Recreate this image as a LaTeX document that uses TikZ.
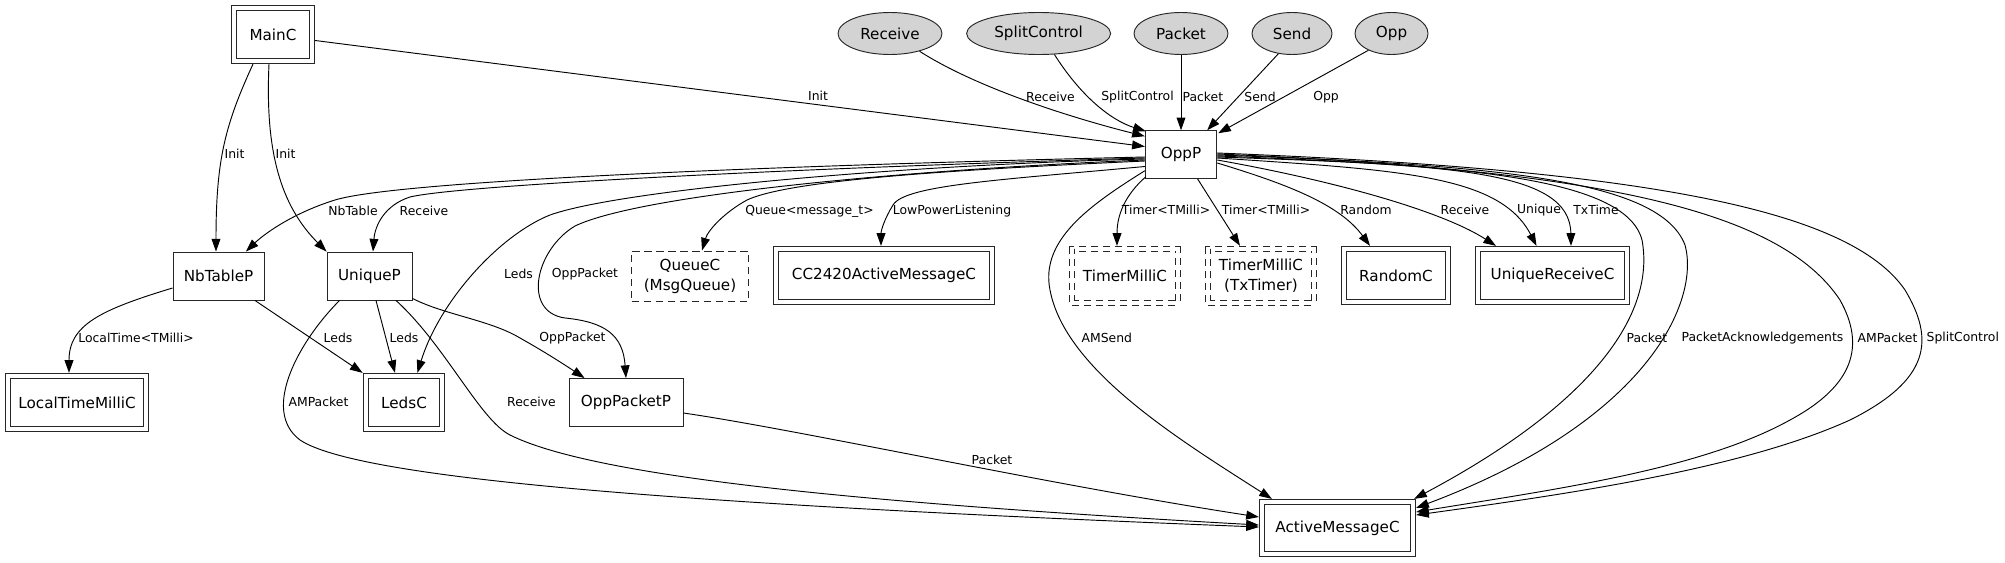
\documentclass[tikz,border=0pt]{standalone}
\usepackage{fontspec}
\setmainfont{DejaVu Sans}
\usetikzlibrary{arrows.meta,shapes.geometric,calc}
\definecolor{ifill}{HTML}{D3D3D3}
\tikzset{
  nfont/.style={font=\fontsize{11.4pt}{15pt}\selectfont},
  efont/.style={font=\fontsize{9.3pt}{11pt}\selectfont},
  box/.style={draw=black!85, rectangle, line width=0.7pt, inner sep=0pt, nfont, align=center},
  dbox/.style={box, double, double distance=3pt, outer sep=2.35pt},
  dsh/.style={dash pattern=on 5.5pt off 3.5pt},
  iface/.style={draw=black!85, ellipse, line width=0.7pt, fill=ifill, inner sep=0pt, nfont, minimum height=31.5pt},
  edge/.style={draw, line width=0.7pt, -{Triangle[length=9.5pt,width=6.6pt]}},
  lbl/.style={efont, inner sep=1pt}
}
\begin{document}
\begin{tikzpicture}[x=0.75pt,y=-0.75pt]
\path[use as bounding box, fill=white] (0,0) rectangle (2005,563);

% nodes
\node[dbox, minimum width=58.5pt, minimum height=39.75pt] (MainC) at (273,34.5) {MainC};
\node[box, minimum width=68.25pt, minimum height=36pt] (NbTableP) at (218.5,276) {NbTableP};
\node[box, minimum width=63.75pt, minimum height=36pt] (UniqueP) at (369.5,276) {UniqueP};
\node[dbox, minimum width=103.5pt, minimum height=39.75pt] (LocalTime) at (77,402.5) {LocalTimeMilliC};
\node[dbox, minimum width=57.4pt, minimum height=39.75pt] (LedsC) at (404,402.5) {LedsC};
\node[box, minimum width=85.5pt, minimum height=36pt] (OppPacketP) at (626,402.5) {OppPacketP};
\node[box, dsh, minimum width=87.75pt, minimum height=37.5pt] (QueueC) at (690,276) {QueueC\\(MsgQueue)};
\node[dbox, minimum width=162pt, minimum height=39.75pt] (CC2420) at (884,275.5) {CC2420ActiveMessageC};
\node[box, minimum width=53.6pt, minimum height=35.7pt] (OppP) at (1181,154.5) {OppP};
\node[dbox, dsh, minimum width=79.5pt, minimum height=40.5pt] (Timer) at (1125,276) {TimerMilliC};
\node[dbox, dsh, minimum width=79.5pt, minimum height=40.5pt] (TxTimer) at (1261,276) {TimerMilliC\\(TxTimer)};
\node[dbox, minimum width=78pt, minimum height=39.75pt] (RandomC) at (1396,275.5) {RandomC};
\node[dbox, minimum width=111.75pt, minimum height=39.75pt] (UniqueReceiveC) at (1552.5,275.5) {UniqueReceiveC};
\node[dbox, minimum width=113.25pt, minimum height=39pt] (AMC) at (1337.5,528) {ActiveMessageC};

\node[iface, minimum width=78pt] (Receive) at (890,33.5) {Receive};
\node[iface, minimum width=108pt] (SplitControl) at (1038.6,33.5) {SplitControl};
\node[iface, minimum width=70.5pt] (Packet) at (1181,33.5) {Packet};
\node[iface, minimum width=60pt] (Send) at (1292,33.5) {Send};
\node[iface, minimum width=54.75pt] (Opp) at (1391.5,33.5) {Opp};

% MainC edges
\draw[edge] ($(MainC.east)+(0,6)$) -- ($(OppP.west)+(0,-8)$);
\draw[edge] ($(MainC.south)+(-20,0)$) .. controls (225,125) and (216,160) .. ($(NbTableP.north)+(-2.5,0)$);
\draw[edge] ($(MainC.south)+(-4,0)$) .. controls (265,150) and (280,205) .. (UniqueP.north west);

% interface edges
\draw[edge] (Receive.-31) .. controls (980,90) and (1080,120) .. ($(OppP.north west)+(0,6)$);
\draw[edge] (SplitControl.-53) .. controls (1080,95) and (1110,120) .. ($(OppP.north west)+(1,1)$);
\draw[edge] (Packet.south) -- (OppP.north);
\draw[edge] (Send.-124) -- ($(OppP.north east)+(-10,0)$);
\draw[edge] (Opp.-144) -- ($(OppP.north east)+(1,3)$);

% OppP left-side edges
\draw[edge] ($(OppP.west)+(0,2.5)$) .. controls (800,165) and (400,180) .. (335,200) .. controls (290,214) and (262,236) .. ($(NbTableP.north east)+(-18.5,0)$);
\draw[edge] ($(OppP.west)+(0,3.5)$) .. controls (800,168) and (460,185) .. (410,197) .. controls (385,205) and (375,225) .. ($(UniqueP.north)+(3.5,0)$);
\draw[edge] ($(OppP.west)+(0,4.5)$) .. controls (900,165) and (620,190) .. (550,215) .. controls (500,235) and (440,300) .. ($(LedsC.north)+(13.4,0)$);
\draw[edge] ($(OppP.west)+(0,5.5)$) .. controls (900,170) and (640,195) .. (575,226) .. controls (535,250) and (522,312) .. (565,318) .. controls (605,322) and (623,335) .. (OppPacketP.north);
\draw[edge] ($(OppP.west)+(0,6.5)$) .. controls (950,170) and (790,180) .. (747,200) .. controls (725,212) and (708,230) .. ($(QueueC.north)+(12,0)$);
\draw[edge] ($(OppP.west)+(0,12)$) .. controls (1000,180) and (905,185) .. (893,205) .. controls (885,218) and (881,230) .. ($(CC2420.north)+(-3,0)$);
\draw[edge] ($(OppP.south west)+(0,-8)$) .. controls (1090,205) and (1040,240) .. (1050,290) .. controls (1065,370) and (1180,440) .. ($(AMC.north west)+(13,0)$);
\draw[edge] ($(OppP.south west)+(1,-2)$) .. controls (1125,195) and (1117,215) .. ($(Timer.north)+(-8,0)$);
\draw[edge] ($(OppP.south)+(16.5,0)$) -- ($(TxTimer.north)+(-21,0)$);

% OppP right-side edges
\draw[edge] ($(OppP.east)+(0,8.5)$) .. controls (1290,185) and (1340,205) .. ($(RandomC.north)+(-26,0)$);
\draw[edge] ($(OppP.east)+(0,5.5)$) .. controls (1330,180) and (1440,210) .. ($(UniqueReceiveC.north)+(-56.5,0)$);
\draw[edge] ($(OppP.east)+(0,3.5)$) .. controls (1400,170) and (1500,175) .. ($(UniqueReceiveC.north)+(-16,0)$);
\draw[edge] ($(OppP.east)+(0,2.5)$) .. controls (1450,165) and (1570,170) .. ($(UniqueReceiveC.north)+(18.5,0)$);
\draw[edge] ($(OppP.east)+(0,1.5)$) .. controls (1450,165) and (1625,175) .. (1642,240) .. controls (1655,310) and (1600,400) .. ($(AMC.north east)+(-2,0)$);
\draw[edge] ($(OppP.east)+(0,0.5)$) .. controls (1500,165) and (1660,180) .. (1685,245) .. controls (1700,300) and (1650,420) .. ($(AMC.north east)+(0,9)$);
\draw[edge] ($(OppP.east)+(0,-0.5)$) .. controls (1600,170) and (1780,210) .. (1840,300) .. controls (1865,345) and (1855,385) .. (1790,420) .. controls (1700,470) and (1550,490) .. ($(AMC.east)+(0,-16)$);
\draw[edge] ($(OppP.east)+(0,-1.5)$) .. controls (1650,170) and (1850,210) .. (1905,290) .. controls (1935,340) and (1930,380) .. (1850,420) .. controls (1740,470) and (1560,495) .. ($(AMC.east)+(0,-13)$);

% lower edges
\draw[edge] ($(NbTableP.west)+(0,12)$) .. controls (100,310) and (69,325) .. ($(LocalTime.north)+(-8,0)$);
\draw[edge] ($(NbTableP.south east)+(-9.5,0)$) -- (LedsC.north west);
\draw[edge] ($(UniqueP.south)+(6.5,0)$) -- ($(LedsC.north)+(-9,0)$);
\draw[edge] ($(UniqueP.south west)+(13,0)$) .. controls (300,340) and (260,410) .. (300,440) .. controls (360,480) and (700,505) .. ($(AMC.west)+(0,-1)$);
\draw[edge] ($(UniqueP.south)+(26.5,0)$) .. controls (445,345) and (480,420) .. (510,435) .. controls (600,480) and (900,505) .. ($(AMC.west)+(0,-3)$);
\draw[edge] ($(UniqueP.south east)+(0,-2)$) .. controls (445,315) and (490,320) .. (520,338) .. controls (545,352) and (565,365) .. ($(OppPacketP.north west)+(16,0)$);
\draw[edge] ($(OppPacketP.east)+(0,10.5)$) .. controls (800,430) and (1050,485) .. ($(AMC.west)+(0,-11)$);

% labels
\node[lbl] (l1) at (818,96) {Init};
\node[lbl, anchor=west] (l2) at (223,154) {Init};
\node[lbl, anchor=west] (l3) at (274,154) {Init};
\node[lbl] (l4) at (353,211) {NbTable};
\node[lbl] (l5) at (424,211) {Receive};
\node[lbl] (l6) at (518.5,274) {Leds};
\node[lbl] (l7) at (585,274) {OppPacket};
\node[lbl] (l8) at (809.5,211) {Queue<message\_t>};
\node[lbl] (l9) at (952,211) {LowPowerListening};
\node[lbl, anchor=west] (l10) at (1080,338) {AMSend};
\node[lbl] (l11) at (1166,210) {Timer<TMilli>};
\node[lbl] (l12) at (1266,210) {Timer<TMilli>};
\node[lbl] (l13) at (1366,210) {Random};
\node[lbl] (l14) at (1465,210) {Receive};
\node[lbl] (l15) at (1539,210) {Unique};
\node[lbl] (l16) at (1596,210) {TxTime};
\node[lbl, anchor=west] (l17) at (1625,338) {Packet};
\node[lbl, anchor=west] (l18) at (1680,338) {PacketAcknowledgements};
\node[lbl, anchor=west] (l19) at (1856,338) {AMPacket};
\node[lbl, anchor=west] (l20) at (1925,338) {SplitControl};
\node[lbl] (l21) at (136,338) {LocalTime<TMilli>};
\node[lbl] (l22) at (338,338) {Leds};
\node[lbl] (l23) at (404,338) {Leds};
\node[lbl] (l24) at (318.5,402) {AMPacket};
\node[lbl] (l25) at (531.5,402) {Receive};
\node[lbl] (l26) at (572.5,338) {OppPacket};
\node[lbl] (l27) at (992,460) {Packet};
\node[lbl] (l28) at (1050.5,97) {Receive};
\node[lbl] (l29) at (1137.5,97) {SplitControl};
\node[lbl, anchor=west] (l30) at (1181,97) {Packet};
\node[lbl] (l31) at (1260,97) {Send};
\node[lbl] (l32) at (1326,97) {Opp};
\end{tikzpicture}
\end{document}
